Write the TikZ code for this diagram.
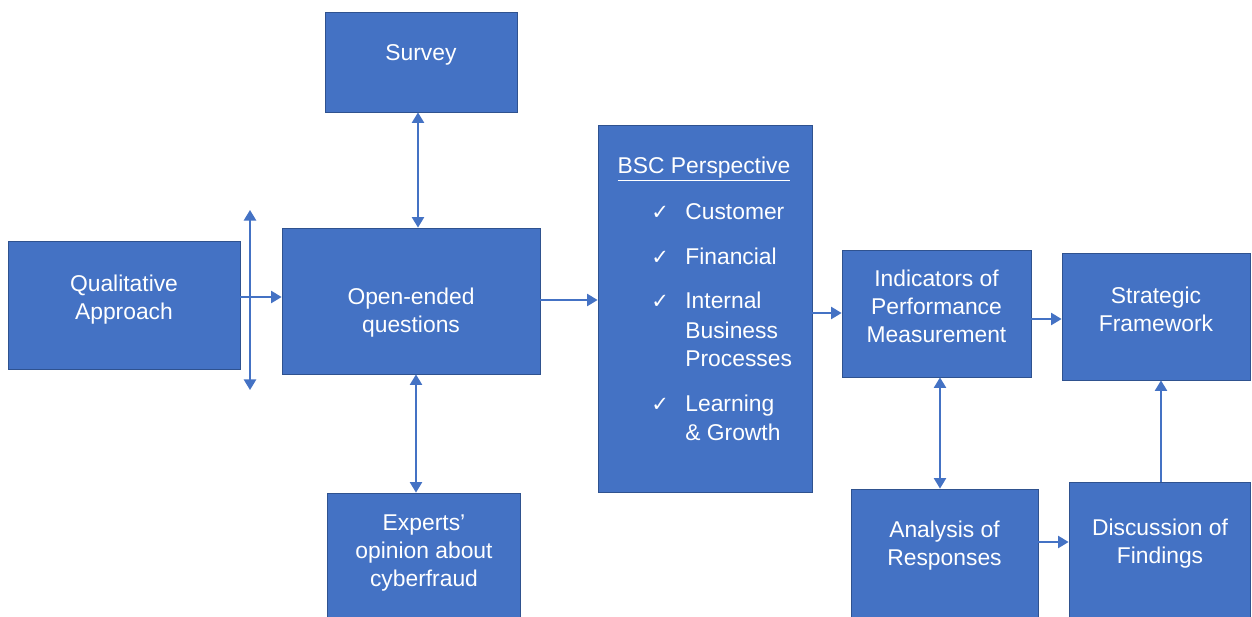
\documentclass[tikz,border=0pt]{standalone}
\usepackage{fontspec}
\setmainfont{Liberation Sans}
\newfontfamily\symfont{DejaVu Sans}
\usetikzlibrary{arrows.meta}

\definecolor{boxblue}{HTML}{4472C4}
\definecolor{edgeblue}{HTML}{2F528F}

\tikzset{
  box/.style={draw=edgeblue, line width=0.5pt, fill=boxblue, inner sep=0pt},
  lbl/.style={text=white, align=center, font=\fontsize{13}{16}\selectfont},
  item/.style={lbl, anchor=west, inner sep=0pt, text height=9.4pt, text depth=0pt},
  link/.style={draw=boxblue, line width=0.9pt, -{Triangle[length=6pt,width=7pt]}},
  twoway/.style={link, {Triangle[length=6pt,width=7pt]}-{Triangle[length=6pt,width=7pt]}},
}

\begin{document}
\begin{tikzpicture}[x=0.02cm, y=-0.02cm]

\useasboundingbox (0,0) rectangle (1252,616);

% boxes
\node[box, minimum width=3.84cm, minimum height=2.00cm] (survey)  at (421,62)     {};
\node[box, minimum width=4.64cm, minimum height=2.56cm] (qual)    at (124,305)    {};
\node[box, minimum width=5.16cm, minimum height=2.92cm] (open)    at (411,301)    {};
\node[box, minimum width=3.86cm, minimum height=2.94cm] (experts) at (423.5,566.5) {};
\node[box, minimum width=4.28cm, minimum height=7.34cm] (bsc)     at (705,308.5)  {};
\node[box, minimum width=3.78cm, minimum height=2.54cm] (ind)     at (936.5,313.5) {};
\node[box, minimum width=3.76cm, minimum height=2.54cm] (strat)   at (1156,316.5) {};
\node[box, minimum width=3.74cm, minimum height=2.82cm] (anal)    at (944.5,559.5) {};
\node[box, minimum width=3.62cm, minimum height=2.96cm] (disc)    at (1159.5,556) {};

% box texts
\node[lbl] (survey-t)  at (421,55)    {Survey};
\node[lbl] (qual-t)    at (124,300)   {Qualitative\\Approach};
\node[lbl] (open-t)    at (411,313)   {Open-ended\\questions};
\node[lbl] (experts-t) at (424,553)   {Experts'\\opinion about\\cyberfraud};
\node[lbl] (ind-t)     at (936.5,306) {Indicators of\\Performance\\Measurement};
\node[lbl] (strat-t)   at (1156,309)  {Strategic\\Framework};
\node[lbl] (anal-t)    at (944.5,546) {Analysis of\\Responses};
\node[lbl] (disc-t)    at (1160,544)  {Discussion of\\Findings};

% BSC list
\node[lbl] (bsc-t) at (704,169) {\underline{BSC Perspective}};
\foreach \y in {211,256,300,403}
  \node[item, font=\symfont\fontsize{12}{14}\selectfont] (chk-\y) at (651,\y) {✓};
\foreach \y/\t in {211/Customer, 256/Financial, 300/Internal, 330/Business,
                   358/Processes, 403/Learning, 432/{\& Growth}}
  \node[item] (it-\y) at (685,\y) {\t};

% connectors
\coordinate (up) at (250,210);
\coordinate (dn) at (250,390);
\draw[twoway] (dn) -- (up);
\draw[link] (qual.east |- 0,297) -- (open.west |- 0,297);
\draw[twoway] (survey.south -| 418,0) -- (open.north -| 418,0);
\draw[twoway] (open.south -| 416,0) -- (experts.north -| 416,0);
\draw[link] (open.east |- 0,300) -- (bsc.west |- 0,300);
\draw[link] (bsc.east |- 0,313) -- (ind.west |- 0,313);
\draw[link] (ind.east |- 0,319) -- (strat.west |- 0,319);
\draw[twoway] (ind.south -| 940,0) -- (anal.north -| 940,0);
\draw[link] (anal.east |- 0,542) -- (disc.west |- 0,542);
\draw[link] (disc.north -| 1161,0) -- (strat.south -| 1161,0);

\end{tikzpicture}
\end{document}
